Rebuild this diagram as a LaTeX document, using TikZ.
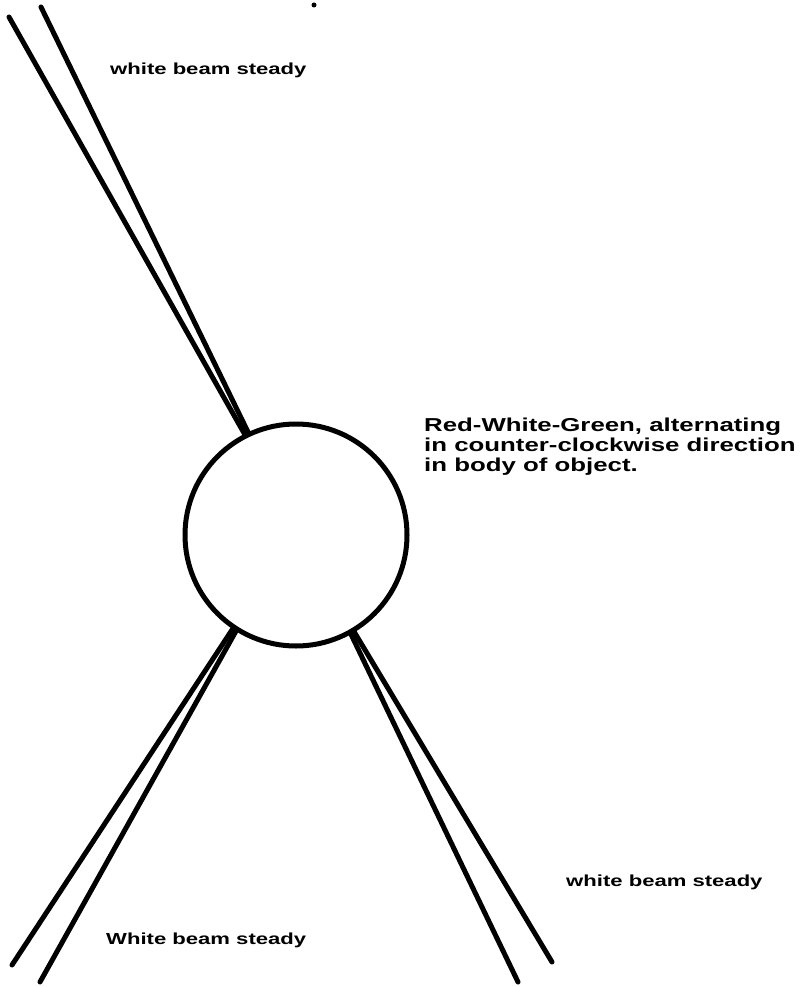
\documentclass[tikz,border=0pt]{standalone}
\usepackage{fontspec}
\newfontfamily\handfont[FakeStretch=1.38]{Liberation Sans Bold}
\usetikzlibrary{positioning}

\begin{document}
\begin{tikzpicture}[
    x=1pt, y=-1pt,
    object/.style={circle, draw, line width=5pt, minimum size=222pt, inner sep=0pt},
    beam/.style={line width=5pt, line cap=round},
    note/.style={font=\handfont\fontsize{16}{20}\selectfont, inner sep=0pt, anchor=west, align=left}
]
    \useasboundingbox (0,0) rectangle (803,987);

    % Object
    \node[object] (obj) at (296,535) {};

    % Beam ends
    \coordinate (nwa) at (9,17);
    \coordinate (nwb) at (41,7);
    \coordinate (swa) at (12,965);
    \coordinate (swb) at (40,982);
    \coordinate (sea) at (518,982);
    \coordinate (seb) at (552,962);

    % Beams
    \draw[beam] (obj.117) -- (nwa);
    \draw[beam] (obj.115) -- (nwb);
    \draw[beam] (obj.236) -- (swa);
    \draw[beam] (obj.238) -- (swb);
    \draw[beam] (obj.299) -- (sea);
    \draw[beam] (obj.301) -- (seb);

    % Labels
    \node[note] (toplbl) at (110,70) {white beam steady};
    \node[note, anchor=north west, font=\handfont\fontsize{18.7}{20}\selectfont] (objlbl) at (424,418) {Red-White-Green, alternating\\in counter-clockwise direction\\in body of object.};
    \node[note] (rightlbl) at (566,882) {white beam steady};
    \node[note] (leftlbl) at (106,940) {White beam steady};

    % Dot
    \fill (314,5) circle (2.5pt);
\end{tikzpicture}
\end{document}
